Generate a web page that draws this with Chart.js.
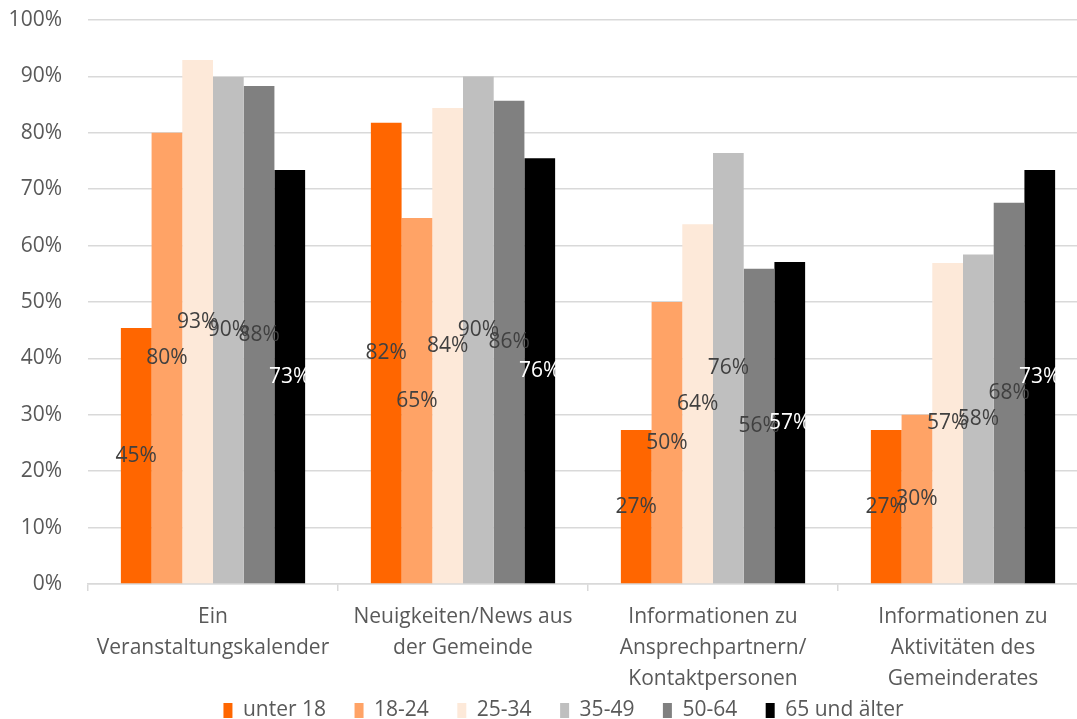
<!DOCTYPE html>
<html><head><meta charset="utf-8">
<script src="https://cdn.jsdelivr.net/npm/chart.js@4"></script>
<style>
html,body{margin:0;padding:0;background:#fff;overflow:hidden;width:1077px;height:719px}
#wrap{position:absolute;left:0;top:0;width:1127px;height:731px}
</style></head><body>
<div id="wrap"><canvas id="c" width="1127" height="731"></canvas></div>
<script>
const categories = [
  ["Ein", "Veranstaltungskalender"],
  ["Neuigkeiten/News aus", "der Gemeinde"],
  ["Informationen zu", "Ansprechpartnern/", "Kontaktpersonen"],
  ["Informationen zu", "Aktivitäten des", "Gemeinderates"]
];
const seriesNames = ["unter 18", "18-24", "25-34", "35-49", "50-64", "65 und älter"];
const unter18   = [45.4, 81.8, 27.3, 27.3];
const age18_24  = [80.0, 64.9, 50.0, 30.0];
const age25_34  = [92.9, 84.4, 63.8, 56.9];
const age35_49  = [89.9, 90.0, 76.4, 58.4];
const age50_64  = [88.3, 85.7, 55.9, 67.6];
const age65plus = [73.4, 75.5, 57.1, 73.4];
const yTicks = [0,10,20,30,40,50,60,70,80,90,100];

const colors = ["#FF6600", "#FFA366", "#FDE9D9", "#BFBFBF", "#808080", "#000000"];
const labelColors = ["#404040", "#404040", "#404040", "#404040", "#404040", "#FFFFFF"];
const seriesData = [unter18, age18_24, age25_34, age35_49, age50_64, age65plus];

const FONT = "'Open Sans', sans-serif";
const FS = 21;

const midLabels = {
  id: 'midLabels',
  afterDatasetsDraw(chart) {
    const ctx = chart.ctx;
    ctx.save();
    ctx.font = FS + "px " + FONT;
    ctx.textAlign = 'center';
    ctx.textBaseline = 'middle';
    chart.data.datasets.forEach((ds, i) => {
      const meta = chart.getDatasetMeta(i);
      meta.data.forEach((bar, j) => {
        const v = ds.data[j];
        ctx.fillStyle = labelColors[i];
        ctx.fillText(Math.round(v) + '%', bar.x, (bar.y + bar.base) / 2);
      });
    });
    ctx.restore();
  }
};

const noLabelClip = s => { s._computeLabelArea = () => undefined; };

new Chart(document.getElementById('c'), {
  type: 'bar',
  data: {
    labels: categories,
    datasets: seriesNames.map((n, i) => ({
      label: n,
      data: seriesData[i],
      backgroundColor: colors[i],
      borderWidth: 0,
      categoryPercentage: 0.737,
      barPercentage: 1.0
    }))
  },
  options: {
    responsive: false,
    animation: false,
    layout: { padding: { left: 39, right: 39, top: 20, bottom: 0 } },
    plugins: {
      legend: {
        position: 'bottom',
        labels: {
          font: { family: FONT, size: FS },
          color: '#595959',
          boxWidth: 9,
          boxHeight: 15,
          padding: 28.5
        }
      },
      tooltip: { enabled: false }
    },
    scales: {
      y: {
        min: 0, max: 100,
        afterBuildTicks(s) { s.ticks = yTicks.map(v => ({ value: v })); },
        afterFit(s) { s.width = 49; s.paddingTop = 0; s.paddingBottom = 0; noLabelClip(s); },
        ticks: {
          callback: v => v + '%',
          font: { family: FONT, size: FS },
          color: '#595959',
          padding: 26
        },
        grid: { color: '#D9D9D9', lineWidth: 1.5, drawTicks: false },
        border: { display: false }
      },
      x: {
        afterFit(s) { s.height = 87.5; noLabelClip(s); },
        ticks: {
          font: { family: FONT, size: FS, lineHeight: 1.48 },
          color: '#595959',
          maxRotation: 0, autoSkip: false,
          padding: 10
        },
        grid: { color: '#D9D9D9', lineWidth: 1.5, drawOnChartArea: false, drawTicks: true, tickLength: 7, offset: true },
        border: { display: true, color: '#D9D9D9', width: 1.5 }
      }
    }
  },
  plugins: [midLabels]
});
</script>
</body></html>
